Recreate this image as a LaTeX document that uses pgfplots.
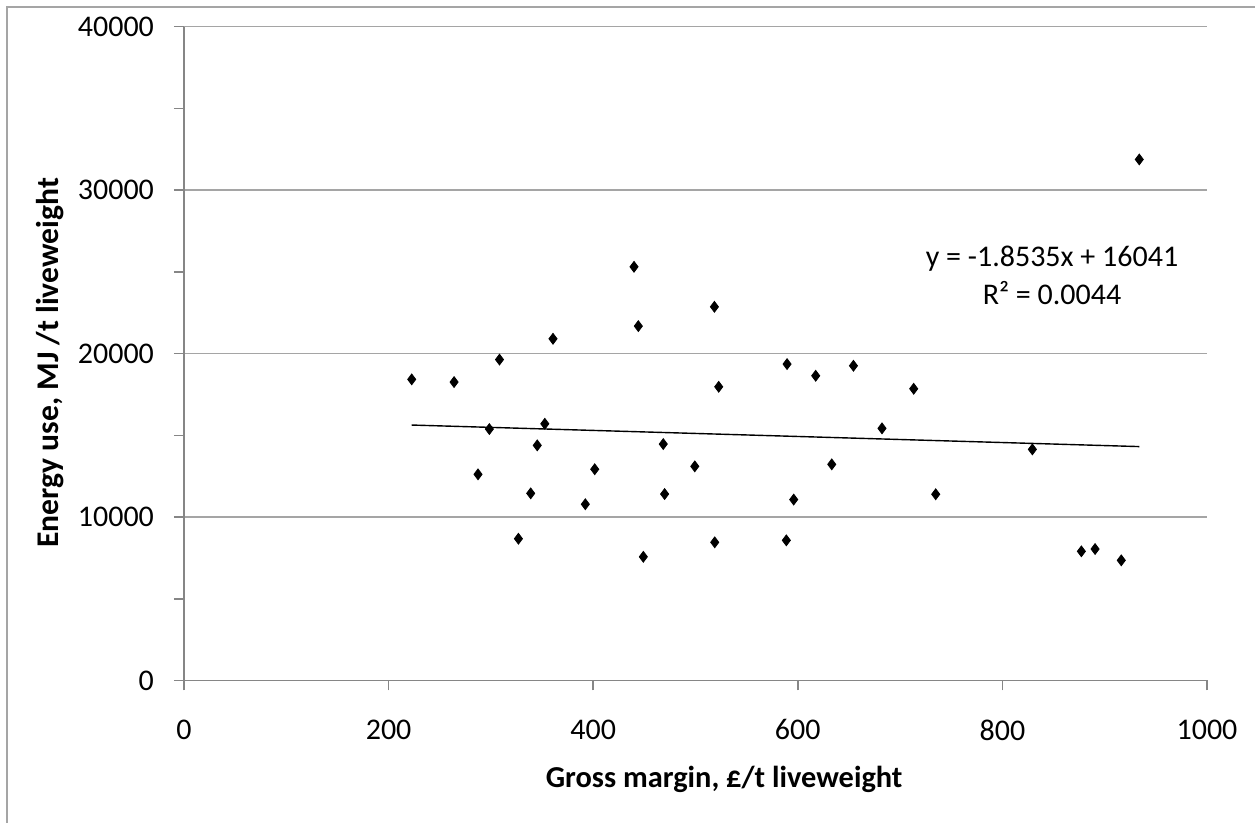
\documentclass[border=0pt]{standalone}
\usepackage{fontspec}
\setmainfont{Carlito}
\usepackage{pgfplots}
\pgfplotsset{compat=1.18}
\definecolor{axgray}{RGB}{134,134,134}
\definecolor{grgray}{RGB}{165,165,165}
\begin{document}
\begin{tikzpicture}
\path[use as bounding box] (0,0) rectangle (627.5pt,411.5pt);
\draw[grgray, line width=0.8pt] (3.35pt,0) -- (3.35pt,407.85pt) -- (627.5pt,407.85pt);
\begin{axis}[
 at={(92pt,71.25pt)}, anchor=south west,
 scale only axis, width=511.5pt, height=326.9pt,
 xmin=0, xmax=1000, ymin=0, ymax=40000,
 xtick={0,200,...,1000}, ytick={0,10000,...,40000},
 minor ytick={5000,15000,25000,35000},
 axis x line*=bottom, axis y line*=left,
 axis line style={axgray, line width=0.8pt, -},
 tick align=outside, major tick length=5pt, minor tick length=5pt,
 tick style={axgray, line width=0.8pt},
 ymajorgrids, grid style={grgray, line width=0.8pt},
 scaled ticks=false,
 /pgf/number format/assume math mode=true,
 /pgf/number format/set thousands separator={},
 ticklabel style={font=\fontsize{15}{18}\selectfont, black},
 xticklabel style={yshift=-11pt},
 yticklabel style={xshift=-6.5pt},
 xlabel={Gross margin, £/t liveweight},
 ylabel={Energy use, MJ /t liveweight},
 xlabel style={at={(axis description cs:0.528,-0.152)}, anchor=center, font=\bfseries\fontsize{15.2}{18}\selectfont},
 ylabel style={at={(axis description cs:-0.131,0.486)}, anchor=center, font=\bfseries\fontsize{15.8}{18}\selectfont},
 clip=false,
]
\addplot[only marks, mark=diamond*, mark size=2.7pt, black] coordinates {
(222.6,18422) (264.0,18257) (308.4,19633) (360.7,20905) (439.9,25309)
(444.1,21682) (518.5,22862) (589.5,19358) (522.7,17969) (617.5,18642)
(654.4,19254) (713.3,17847) (682.3,15425) (298.5,15382) (352.7,15706)
(345.3,14385) (468.5,14465) (287.4,12612) (401.5,12924) (499.3,13101)
(633.2,13223) (338.9,11450) (469.8,11407) (392.3,10783) (596.0,11070)
(734.8,11394) (829.3,14141) (326.9,8673) (449.0,7566) (518.8,8453)
(588.8,8575) (877.2,7902) (890.6,8043) (916.2,7352) (933.8,31878)
};
\addplot[black, line width=0.7pt] coordinates {(222.6,15628.4) (933.8,14310.2)};
\node[font=\fontsize{15}{18}\selectfont, anchor=center] at (axis cs:848.5,25780) {y = -1.8535x + 16041};
\node[font=\fontsize{15}{18}\selectfont, anchor=center] at (axis cs:848.5,23700) {R² = 0.0044};
\end{axis}
\end{tikzpicture}
\end{document}
